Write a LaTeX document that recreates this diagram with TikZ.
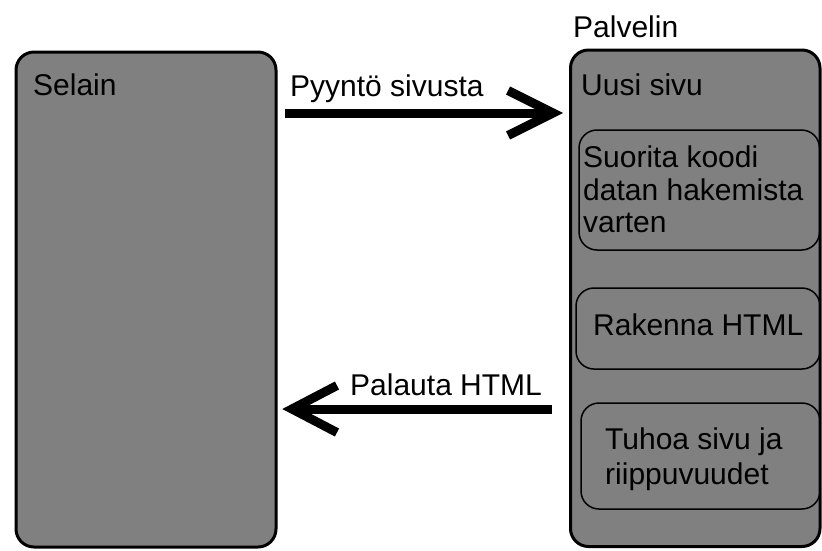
\documentclass[tikz,border=0pt]{standalone}
\usepackage{fontspec}
\setmainfont{Liberation Sans}
\usetikzlibrary{calc}
\definecolor{boxgray}{HTML}{808080}
\begin{document}
\begin{tikzpicture}[x=1pt,y=-1pt,
  bigbox/.style={draw=black, line width=3pt, fill=boxgray, rounded corners=18pt, inner sep=0pt},
  stepbox/.style={draw=black, line width=1.5pt, rounded corners=18pt, inner sep=0pt},
  lbl/.style={font=\fontsize{30}{33}\selectfont, inner sep=0pt, anchor=base west, text=black},
  shaft/.style={draw=black, line width=9pt},
  barb/.style={draw=black, line width=9pt, line join=miter, miter limit=10}]
\useasboundingbox (0,0) rectangle (822,550);
% big boxes
\node[bigbox, minimum width=260pt, minimum height=495pt] (selain) at (146,299.5) {};
\node[bigbox, minimum width=249.5pt, minimum height=496.5pt] (palvelin) at (695.25,298.25) {};
% inner boxes
\node[stepbox, minimum width=240.5pt, minimum height=120pt] (suorita) at (699.25,190) {};
\node[stepbox, minimum width=244pt, minimum height=81pt] (rakenna) at (698,328.5) {};
\node[stepbox, minimum width=239pt, minimum height=106pt] (tuhoa) at (700.5,456) {};
% labels
\node[lbl] (tselain) at (33,95) {Selain};
\node[lbl] (tpalvelin) at (573,37) {Palvelin};
\node[lbl] (tuusi) at (581,95) {Uusi sivu};
\node[lbl] (tsuor1) at (583,167) {Suorita koodi};
\node[lbl] (tsuor2) at (583,200) {datan hakemista};
\node[lbl] (tsuor3) at (583,232) {varten};
\node[lbl] (trak) at (593,335) {Rakenna HTML};
\node[lbl] (ttuh1) at (605,449) {Tuhoa sivu ja};
\node[lbl] (ttuh2) at (605,484) {riippuvuudet};
\node[lbl] (tpyynto) at (290,96) {Pyyntö sivusta};
\node[lbl] (tpalauta) at (350,395) {Palauta HTML};
% request arrow
\coordinate (r1) at (553,113);
\draw[shaft, shorten <=7.5pt] (selain.east |- r1) -- (r1);
\draw[barb] ($(r1)+(-45,-22.5)$) -- (r1) -- ($(r1)+(-45,22.5)$);
% response arrow
\coordinate (r2) at (292,409);
\draw[shaft, shorten <=17pt] (palvelin.west |- r2) -- (r2);
\draw[barb] ($(r2)+(45,-23.5)$) -- (r2) -- ($(r2)+(45,23.5)$);
\end{tikzpicture}
\end{document}
